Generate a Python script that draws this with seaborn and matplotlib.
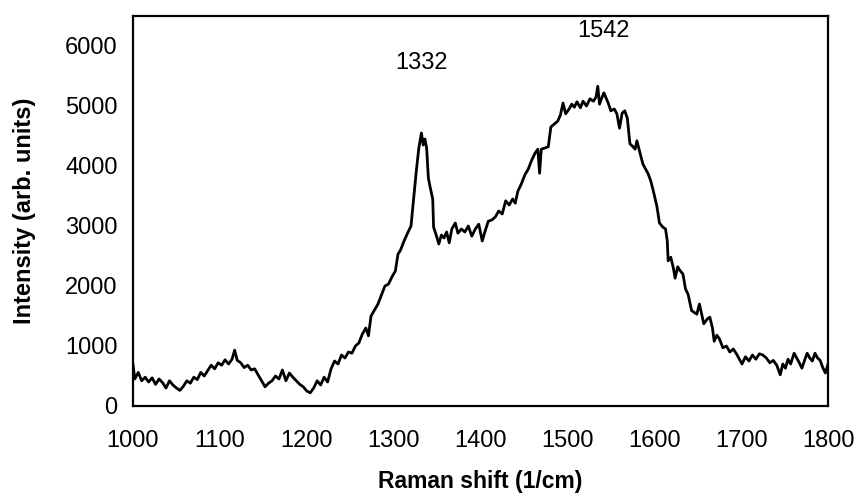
import matplotlib
matplotlib.use("Agg")
import matplotlib.pyplot as plt
import seaborn as sns
import pandas as pd

# Raman spectrum: shift (1/cm) and intensity (arb. units)
raman_shift = [
    1000, 1002, 1006, 1010, 1014, 1018, 1022, 1026, 1030, 1034, 1038, 1042, 1046,
    1050, 1054, 1058, 1062, 1066, 1070, 1074, 1078, 1082, 1086, 1090, 1094, 1098,
    1102, 1106, 1110, 1114, 1117, 1120, 1124, 1128, 1132, 1136, 1140, 1144, 1148,
    1152, 1156, 1160, 1164, 1168, 1172, 1176, 1180, 1184, 1188, 1192, 1196, 1200,
    1204, 1208, 1212, 1216, 1220, 1224, 1228, 1232, 1236, 1240, 1244, 1248, 1252,
    1256, 1260, 1264, 1268, 1271, 1274, 1278, 1282, 1286, 1290, 1294, 1298, 1302,
    1305, 1308, 1312, 1316, 1320, 1323, 1326, 1329, 1332, 1334, 1336, 1338, 1340,
    1342, 1345, 1346, 1349, 1352, 1355, 1358, 1361, 1364, 1367, 1371, 1374, 1378,
    1382, 1386, 1390, 1394, 1398, 1402, 1405, 1409, 1413, 1417, 1421, 1425, 1429,
    1433, 1437, 1440, 1443, 1447, 1451, 1455, 1459, 1463, 1466, 1468, 1470, 1474,
    1478, 1481, 1485, 1489, 1492, 1495, 1498, 1502, 1505, 1508, 1511, 1515, 1518,
    1522, 1526, 1530, 1533, 1535, 1537, 1540, 1542, 1547, 1550, 1554, 1557, 1560,
    1563, 1566, 1569, 1572, 1575, 1578, 1580, 1584, 1587, 1590, 1593, 1596, 1599,
    1603, 1606, 1610, 1613, 1615, 1616, 1619, 1622, 1624, 1627, 1630, 1633, 1636,
    1639, 1643, 1646, 1649, 1652, 1655, 1657, 1661, 1664, 1667, 1669, 1672, 1675,
    1679, 1683, 1687, 1691, 1695, 1698, 1701, 1705, 1709, 1713, 1717, 1721, 1725,
    1729, 1733, 1737, 1741, 1745, 1748, 1751, 1754, 1757, 1761, 1764, 1767, 1770,
    1773, 1776, 1779, 1782, 1785, 1788, 1791, 1794, 1797, 1800,
]
intensity = [
    700, 450, 560, 420, 480, 400, 470, 360, 450, 390, 300, 420, 350,
    300, 260, 330, 420, 380, 480, 440, 560, 500, 590, 680, 620, 720,
    680, 770, 700, 780, 930, 760, 720, 640, 680, 600, 620, 520, 420,
    320, 380, 420, 500, 450, 600, 420, 550, 480, 420, 360, 320, 250,
    220, 300, 420, 350, 480, 400, 620, 750, 700, 850, 800, 900, 880,
    1000, 1050, 1200, 1300, 1170, 1500, 1600, 1700, 1850, 2000, 2030, 2150, 2250,
    2530, 2600, 2750, 2880, 3000, 3450, 3900, 4300, 4550, 4350, 4450, 4300, 3800,
    3650, 3450, 2980, 2850, 2700, 2850, 2800, 2900, 2720, 2950, 3050, 2880, 2950,
    2900, 3000, 2830, 2950, 3030, 2750, 2900, 3080, 3100, 3150, 3250, 3200, 3420,
    3350, 3450, 3380, 3580, 3700, 3850, 3950, 4100, 4220, 4280, 3880, 4280, 4300,
    4320, 4650, 4700, 4750, 4850, 5050, 4870, 4950, 5030, 4980, 5070, 4970, 5080,
    5000, 5120, 5080, 5150, 5330, 5030, 5150, 5220, 5050, 4920, 4950, 4870, 4630,
    4880, 4920, 4800, 4370, 4330, 4280, 4420, 4200, 4030, 3950, 3870, 3750, 3580,
    3330, 3050, 2980, 2950, 2750, 2420, 2480, 2300, 2130, 2320, 2250, 2200, 1950,
    1860, 1590, 1560, 1530, 1700, 1500, 1370, 1450, 1480, 1300, 1080, 1180, 1120,
    970, 1000, 900, 950, 860, 780, 700, 820, 750, 850, 780, 870, 850,
    800, 720, 760, 680, 520, 700, 630, 780, 700, 880, 800, 720, 630,
    760, 880, 800, 750, 880, 800, 760, 640, 550, 700,
]

peak_labels = ["1332", "1542"]
peak_positions = [1332, 1542]
label_heights = [5720, 6250]

x_ticks = [1000, 1100, 1200, 1300, 1400, 1500, 1600, 1700, 1800]
y_ticks = [0, 1000, 2000, 3000, 4000, 5000, 6000]

sns.set_style("white")
plt.rcParams["font.family"] = ["Liberation Sans", "DejaVu Sans"]

spectrum = pd.DataFrame({"shift": raman_shift, "intensity": intensity})

fig = plt.figure(figsize=(8.57, 4.97), dpi=100)
ax = fig.add_axes([133 / 857, 1 - 406 / 497, (828 - 133) / 857, (406 - 16) / 497])

sns.lineplot(data=spectrum, x="shift", y="intensity", color="black",
             linewidth=2.0, ax=ax, estimator=None, sort=False)

ax.set_xlim(1000, 1800)
ax.set_ylim(0, 6500)
ax.set_xticks(x_ticks)
ax.set_yticks(y_ticks)
ax.set_xticklabels([str(t) for t in x_ticks], fontsize=17)
ax.set_yticklabels([str(t) for t in y_ticks], fontsize=17)
ax.tick_params(axis="y", direction="in", length=4, width=1, pad=11, colors="black")
ax.tick_params(axis="x", direction="in", length=2, width=0.8, pad=17, colors="black")

for side in ax.spines.values():
    side.set_visible(True)
    side.set_color("black")
    side.set_linewidth(1.6)

ax.set_xlabel("Raman shift (1/cm)", fontsize=16.5, fontweight="bold", color="black")
ax.set_ylabel("Intensity (arb. units)", fontsize=17, fontweight="bold", color="black")
ax.xaxis.set_label_coords(0.5, -0.163)
ax.yaxis.set_label_coords(-0.14, 0.5)

for text, xpos, ypos in zip(peak_labels, peak_positions, label_heights):
    ax.text(xpos, ypos, text, ha="center", va="center", fontsize=17, color="black")

fig.savefig("out.png", dpi=100, facecolor="white")
